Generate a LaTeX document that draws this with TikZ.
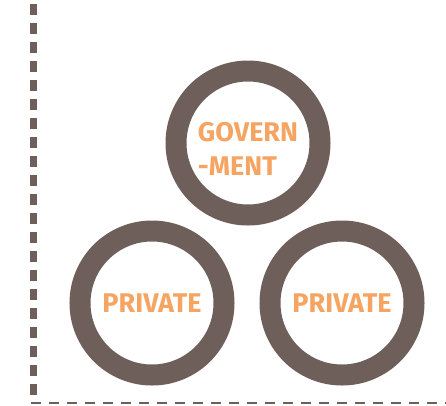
\documentclass[tikz,border=0pt]{standalone}
\usepackage{fontspec}
\setmainfont{Fira Sans}
\definecolor{ringc}{HTML}{6E5F5B}
\definecolor{txtc}{HTML}{F5A462}
\begin{document}
\begin{tikzpicture}[x=1pt,y=-1pt,
  ring/.style={circle,draw=ringc,line width=21pt,minimum size=144pt,inner sep=0pt},
  lbl/.style={text=txtc,font=\bfseries\fontsize{27}{34}\selectfont,inner sep=0pt}]
\useasboundingbox (0,0) rectangle (446,405);
\node[ring] (gov) at (248,143) {};
\node[ring] (pl) at (152,303) {};
\node[ring] (pr) at (342,303) {};
\node[lbl,align=left] (govt) at (248,149) {GOVERN\\-MENT};
\node[lbl] (plt) at (pl) {PRIVATE};
\node[lbl] (prt) at (pr) {PRIVATE};
\coordinate (vtop) at (33.5,4);
\coordinate (vbot) at (33.5,395);
\coordinate (hl) at (31,403);
\coordinate (hr) at (446,403);
\draw[ringc,line width=7pt,dash pattern=on 11pt off 8pt] (vtop) -- (vbot);
\draw[ringc,line width=2pt,dash pattern=on 10pt off 8pt] (hl) -- (hr);
\end{tikzpicture}
\end{document}
